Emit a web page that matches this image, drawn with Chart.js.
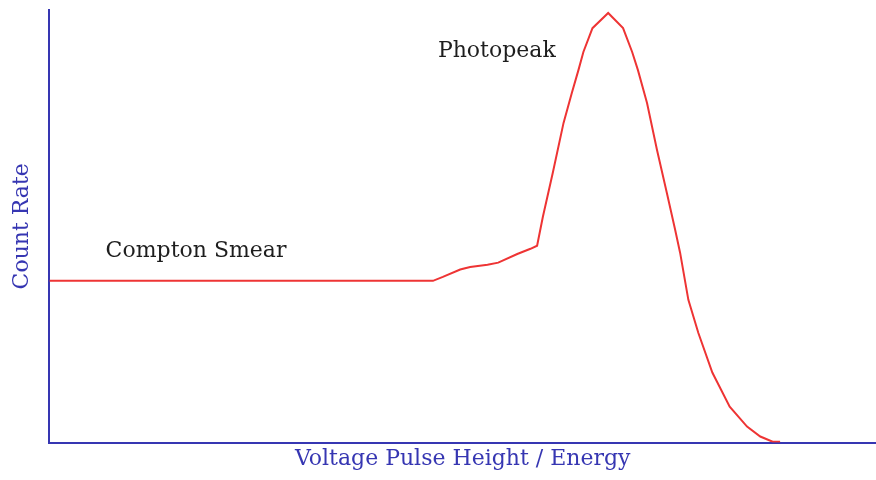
<!DOCTYPE html>
<html>
<head>
<meta charset="utf-8">
<title>Gamma spectrum</title>
<script src="https://cdn.jsdelivr.net/npm/chart.js@4.4.1/dist/chart.umd.min.js"></script>
<style>
  html, body { margin: 0; padding: 0; background: #fff; }
  #wrap { width: 876px; height: 480px; }
</style>
</head>
<body>
<div id="wrap"><canvas id="spectrum"></canvas></div>
<script>
// pulse height (arbitrary units, 0-100) and count rate (arbitrary units, 0-100)
var energy = [0, 46.4, 47.6, 49.7, 50.9, 53.0, 54.3, 56.6, 58.2, 59.0,
  59.7, 60.9, 62.2, 63.2, 64.0, 64.6, 65.7, 67.6, 69.4, 70.5,
  71.2, 72.3, 73.5, 74.7, 75.7, 76.3, 77.3, 78.5, 80.2, 82.3,
  84.4, 86.0, 87.5, 88.4];
var countRate = [37.4, 37.4, 38.3, 40.0, 40.6, 41.1, 41.6, 43.6, 44.8, 45.5,
  52.2, 62.4, 73.9, 80.8, 86.1, 90.3, 95.8, 99.3, 95.8, 90.3,
  86.1, 78.5, 67.7, 57.7, 49.2, 43.9, 33.0, 25.4, 16.2, 8.3,
  3.7, 1.4, 0.2, 0.2];

// text labels placed in data units
var labels = [
  { text: "Compton Smear", x: 6.8, y: 42.9 },
  { text: "Photopeak", x: 47.0, y: 89.1 }
];

var axisBlue = "#3636b2";
var fontFam = "'DejaVu Serif', serif";

var points = energy.map(function (e, i) { return { x: e, y: countRate[i] }; });

var labelPlugin = {
  id: "spectrumLabels",
  afterDatasetsDraw: function (chart) {
    var ctx = chart.ctx;
    var xs = chart.scales.x, ys = chart.scales.y;
    ctx.save();
    ctx.font = "22px " + fontFam;
    ctx.fillStyle = "#1e1e1e";
    ctx.textAlign = "left";
    ctx.textBaseline = "alphabetic";
    labels.forEach(function (l) {
      ctx.fillText(l.text, xs.getPixelForValue(l.x), ys.getPixelForValue(l.y));
    });
    ctx.restore();
  }
};

new Chart(document.getElementById("spectrum"), {
  type: "line",
  data: {
    datasets: [{
      data: points,
      borderColor: "#ee3434",
      borderWidth: 2,
      pointRadius: 0,
      tension: 0,
      fill: false
    }]
  },
  options: {
    responsive: true,
    maintainAspectRatio: false,
    animation: false,
    events: [],
    layout: { autoPadding: false, padding: { top: 10, right: 0, left: 0, bottom: 0 } },
    plugins: {
      legend: { display: false },
      tooltip: { enabled: false }
    },
    scales: {
      x: {
        type: "linear",
        min: 0,
        max: 100,
        ticks: { display: false },
        grid: { display: false, drawTicks: false },
        border: { display: true, color: axisBlue, width: 2 },
        title: {
          display: true,
          text: "Voltage Pulse Height / Energy",
          color: axisBlue,
          font: { family: fontFam, size: 22 },
          padding: { top: 3, bottom: 8 }
        }
      },
      y: {
        type: "linear",
        min: 0,
        max: 100,
        ticks: { display: false },
        grid: { display: false, drawTicks: false },
        border: { display: true, color: axisBlue, width: 2 },
        title: {
          display: true,
          text: "Count Rate",
          color: axisBlue,
          font: { family: fontFam, size: 22 },
          padding: { top: 9, bottom: 14 }
        }
      }
    }
  },
  plugins: [labelPlugin]
});
</script>
</body>
</html>
